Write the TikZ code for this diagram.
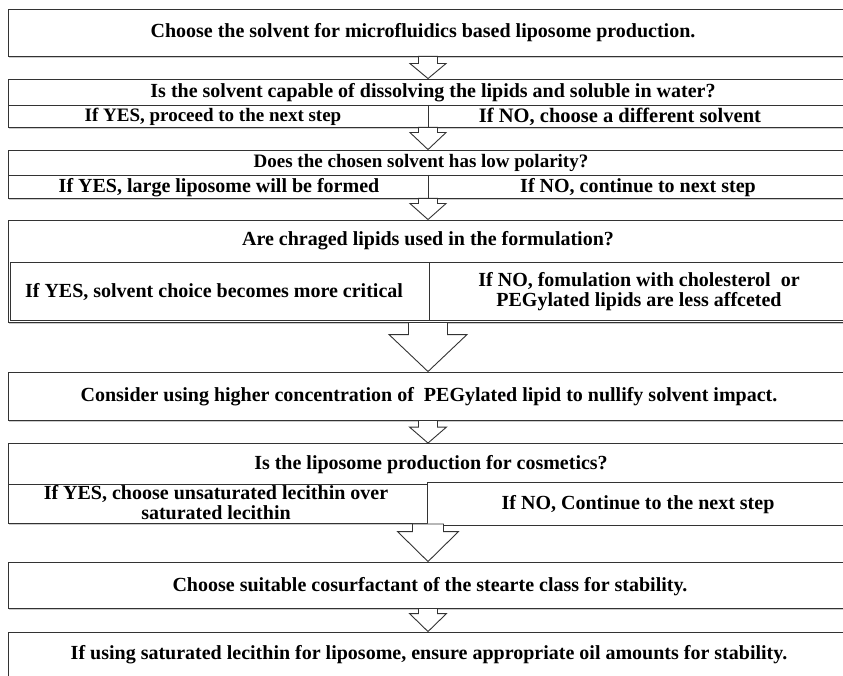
\documentclass[tikz,border=0pt]{standalone}
\usepackage{fontspec}
\setmainfont{Liberation Serif}
\usetikzlibrary{calc,shadows}
\begin{document}
\begin{tikzpicture}[x=1pt,y=-1pt,
  box/.style={draw=black!80, line width=0.9pt, fill=white, rectangle, inner sep=0pt,
    minimum width=840pt,
    drop shadow={shadow xshift=0.6pt, shadow yshift=-1.6pt, opacity=0.4}},
  cell/.style={draw=black!80, line width=0.9pt, fill=white, rectangle, inner sep=0pt},
  txt/.style={font=\fontsize{20}{20}\selectfont\bfseries, inner sep=0pt, align=center},
  txtsmall/.style={txt, font=\fontsize{19}{19}\selectfont\bfseries},
  txtwide/.style={txt, font=\fontsize{20.5}{20.5}\selectfont\bfseries},
  rule/.style={draw=black!80, line width=0.9pt},
  arrowbox/.style={draw=black!80, line width=0.9pt, fill=white, line join=miter}]
\clip (0,0) rectangle (843,676);
\fill[white] (0,0) rectangle (843,676);

% block arrow from the bottom of #1 to the top of #2:
% shaft half width #3, head half width #4, head length #5
\newcommand\blockarrow[5]{%
  \draw[arrowbox] ($(#1.south)+(-#3,0)$) -- ($(#2.north)+(-#3,-#5)$)
    -- ($(#2.north)+(-#4,-#5)$) -- (#2.north) -- ($(#2.north)+(#4,-#5)$)
    -- ($(#2.north)+(#3,-#5)$) -- ($(#1.south)+(#3,0)$) -- cycle;}

% step 1
\node[box, minimum height=47pt] (b1) at (428,32.5) {};
\node[txt] (t1) at (423,33) {Choose the solvent for microfluidics based liposome production.};

% step 2
\node[box, minimum height=48pt] (b2) at (428,103) {};
\coordinate (s2l) at (8,105);
\coordinate (s2r) at (848,105);
\draw[rule] (s2l) -- (s2r);
\coordinate (d2t) at (428,105);
\coordinate (d2b) at (428,127);
\draw[rule] (d2t) -- (d2b);
\node[txt] (t2) at (433,93) {Is the solvent capable of dissolving the lipids and soluble in water?};
\node[txtsmall] (t2y) at (213,117) {If YES, proceed to the next step};
\node[txtwide] (t2n) at (620,117) {If NO, choose a different solvent};

% step 3
\node[box, minimum height=48pt] (b3) at (428,174) {};
\coordinate (s3l) at (8,175);
\coordinate (s3r) at (848,175);
\draw[rule] (s3l) -- (s3r);
\coordinate (d3t) at (428,175);
\coordinate (d3b) at (428,198);
\draw[rule] (d3t) -- (d3b);
\node[txtsmall] (t3) at (421,163) {Does the chosen solvent has low polarity?};
\node[txt] (t3y) at (219,187.5) {If YES, large liposome will be formed};
\node[txt] (t3n) at (638,187.5) {If NO, continue to next step};

% step 4
\node[box, minimum height=102pt] (b4) at (428,271) {};
\node[cell, minimum width=419pt, minimum height=58pt] (c4y) at (219.5,291) {};
\node[cell, minimum width=419pt, minimum height=58pt] (c4n) at (638.5,291) {};
\node[txt] (t4) at (428,241) {Are chraged lipids used in the formulation?};
\node[txt] (t4y) at (214,292.5) {If YES, solvent choice becomes more critical};
\node[txt] (t4n) at (639,292) {If NO, fomulation with cholesterol\ \ or\\PEGylated lipids are less affceted};

% step 5
\node[box, minimum height=48pt] (b5) at (428,396) {};
\node[txt] (t5) at (429,397) {Consider using higher concentration of\ \ PEGylated lipid to nullify solvent impact.};

% step 6
\node[box, minimum height=80pt] (b6) at (428,483.5) {};
\node[cell, minimum width=419pt, minimum height=39pt] (c6y) at (217.5,503.5) {};
\node[cell, minimum width=421pt, minimum height=43pt] (c6n) at (637.5,503.5) {};
\node[txt] (t6) at (431,465) {Is the liposome production for cosmetics?};
\node[txt] (t6y) at (216,503) {If YES, choose unsaturated lecithin over\\saturated lecithin};
\node[txt] (t6n) at (638,505) {If NO, Continue to the next step};

% step 7
\node[box, minimum height=46pt] (b7) at (428,585) {};
\node[txt] (t7) at (430,587) {Choose suitable cosurfactant of the stearte class for stability.};

% step 8
\node[box, minimum height=68pt] (b8) at (428,666) {};
\node[txt] (t8) at (429,655) {If using saturated lecithin for liposome, ensure appropriate oil amounts for stability.};

% connecting block arrows
\blockarrow{b1}{b2}{9.5}{18}{15}
\blockarrow{b2}{b3}{9.5}{18}{17}
\blockarrow{b3}{b4}{9.5}{18}{16}
\blockarrow{b4}{b5}{19.5}{39}{37}
\blockarrow{b5}{b6}{9.5}{18.5}{16}
\blockarrow{b6}{b7}{15.5}{30.5}{30}
\blockarrow{b7}{b8}{9.5}{18.5}{18}
\end{tikzpicture}
\end{document}
